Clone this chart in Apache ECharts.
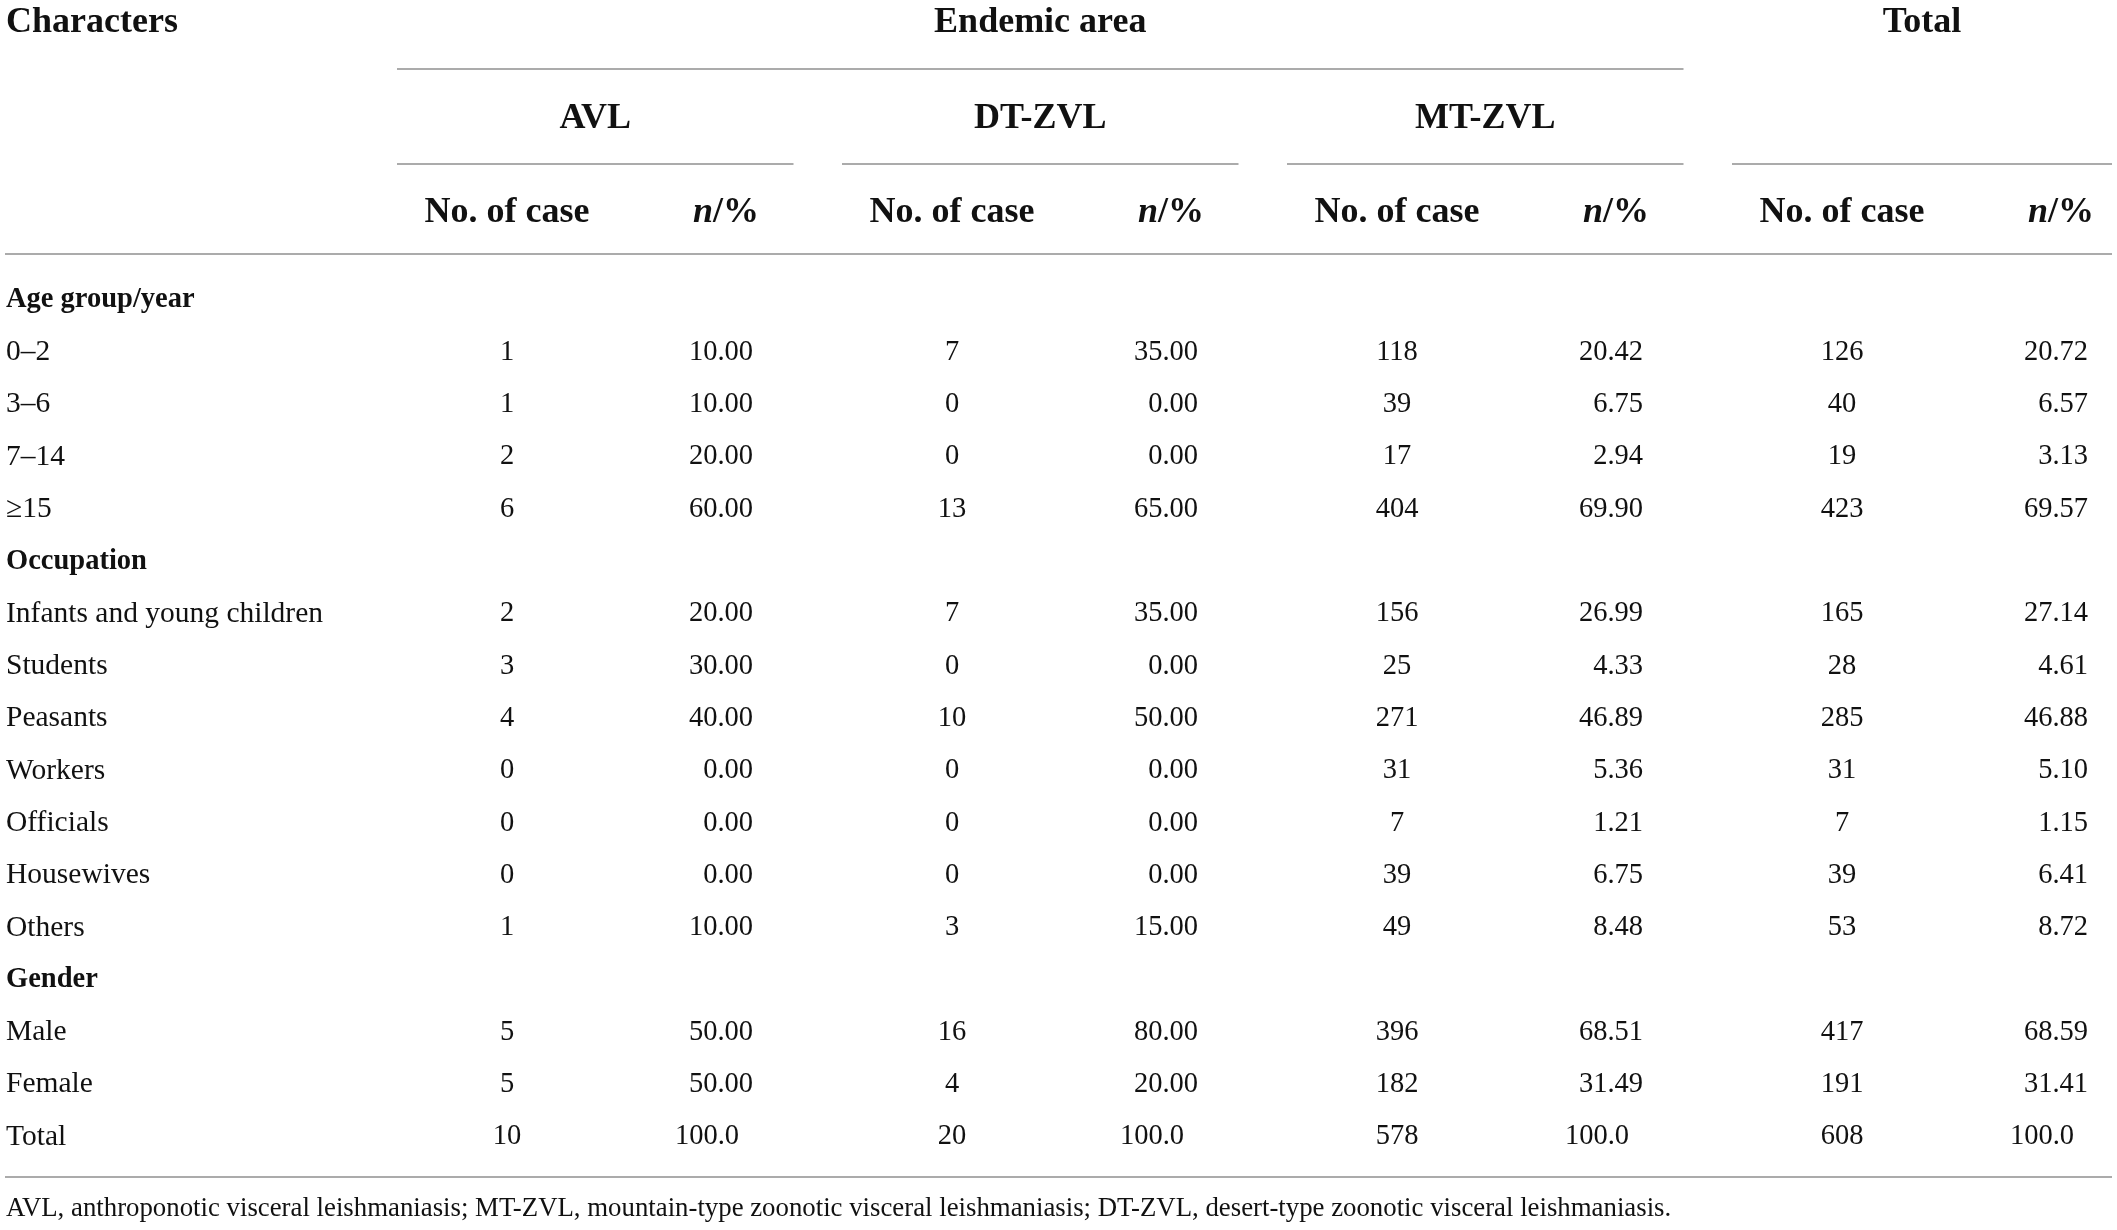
<!DOCTYPE html>
<html>
<head>
<meta charset="utf-8">
<script src="https://cdn.jsdelivr.net/npm/echarts@6/dist/echarts.min.js"></script>
<style>
  html,body{margin:0;padding:0;background:#fff;}
  #table1{width:2117px;height:1230px;}
</style>
</head>
<body>
<div id="table1"></div>
<script>
// rows of the table, group headings are bold and carry no values
var rows = ['Age group/year','0–2','3–6','7–14','≥15','Occupation','Infants and young children','Students',
  'Peasants','Workers','Officials','Housewives','Others','Gender','Male','Female','Total'];
var groupRows = ['Age group/year','Occupation','Gender'];
var columns = ['avlCase','avlPct','dtCase','dtPct','mtCase','mtPct','totalCase','totalPct'];
var areas = ['AVL','DT-ZVL','MT-ZVL','Total'];

var avlCases   = [null,1,1,2,6,null,2,3,4,0,0,0,1,null,5,5,10];
var avlPct     = [null,10,10,20,60,null,20,30,40,0,0,0,10,null,50,50,100];
var dtCases    = [null,7,0,0,13,null,7,0,10,0,0,0,3,null,16,4,20];
var dtPct      = [null,35,0,0,65,null,35,0,50,0,0,0,15,null,80,20,100];
var mtCases    = [null,118,39,17,404,null,156,25,271,31,7,39,49,null,396,182,578];
var mtPct      = [null,20.42,6.75,2.94,69.90,null,26.99,4.33,46.89,5.36,1.21,6.75,8.48,null,68.51,31.49,100];
var totalCases = [null,126,40,19,423,null,165,28,285,31,7,39,53,null,417,191,608];
var totalPct   = [null,20.72,6.57,3.13,69.57,null,27.14,4.61,46.88,5.10,1.15,6.41,8.72,null,68.59,31.41,100];

var footnote = 'AVL, anthroponotic visceral leishmaniasis; MT-ZVL, mountain-type zoonotic visceral leishmaniasis; DT-ZVL, desert-type zoonotic visceral leishmaniasis.';

var FONT = "'Liberation Serif','DejaVu Serif',serif";
var INK = '#111';
var RULE = '#ababab';

function fmtPct(v){
    return v === 100 ? '100.0' : v.toFixed(2);
}

function cellSeries(colIdx, values, isPct){
    var data = [];
    values.forEach(function(v, r){
        if (v === null) return;
        data.push({
            value:[colIdx, r, v],
            // decimal alignment: one-decimal values end one digit earlier
            label:{offset:[isPct ? (v === 100 ? 9.5 : 23.5) : 0, 0]}
        });
    });
    return {
        type:'scatter',
        symbolSize:1,
        itemStyle:{color:'rgba(0,0,0,0)'},
        silent:true,
        data:data,
        label:{
            show:true,
            position:'inside',
            align:isPct ? 'right' : 'center',
            verticalAlign:'middle',
            fontFamily:FONT,
            fontSize:28.5,
            color:INK,
            opacity:1,
            textBorderWidth:0,
            formatter:function(p){ return isPct ? fmtPct(p.value[2]) : String(p.value[2]); }
        },
        emphasis:{disabled:true}
    };
}

var myChart = echarts.init(document.getElementById('table1'));
var option = {
    animation:false,
    backgroundColor:'#fff',
    grid:{left:507, right:52.5, top:300, bottom:93},
    xAxis:{
        type:'category',
        boundaryGap:false,
        data:columns,
        axisLine:{show:false}, axisTick:{show:false}, axisLabel:{show:false}, splitLine:{show:false}
    },
    yAxis:{
        type:'category',
        inverse:true,
        boundaryGap:false,
        data:rows,
        axisLine:{show:false}, axisTick:{show:false}, splitLine:{show:false},
        axisLabel:{
            align:'left',
            margin:501,
            formatter:function(v){
                return groupRows.indexOf(v) >= 0 ? '{b|' + v + '}' : '{r|' + v + '}';
            },
            rich:{
                b:{fontFamily:FONT, fontSize:28.5, fontWeight:'bold', color:INK},
                r:{fontFamily:FONT, fontSize:29.5, color:INK}
            }
        }
    },
    series:[
        cellSeries(0, avlCases, false),
        cellSeries(1, avlPct, true),
        cellSeries(2, dtCases, false),
        cellSeries(3, dtPct, true),
        cellSeries(4, mtCases, false),
        cellSeries(5, mtPct, true),
        cellSeries(6, totalCases, false),
        cellSeries(7, totalPct, true)
    ]
};
myChart.setOption(option);

// header block and rules, placed from the column positions of the x axis
var colX = columns.map(function(c){ return myChart.convertToPixel({xAxisIndex:0}, c); });
var headBold = {fontFamily:FONT, fontSize:36, fontWeight:'bold', fill:INK, verticalAlign:'middle'};
var graphics = [];
function txt(x, y, text, align, style){
    graphics.push({type:'text', x:x, y:y, silent:true,
        style:Object.assign({}, style, {text:text, align:align})});
}
function rule(x1, x2, y){
    graphics.push({type:'line', silent:true, shape:{x1:x1, y1:y, x2:x2, y2:y},
        style:{stroke:RULE, lineWidth:2}});
}
var tableLeft = 5, tableRight = 2112;
txt(tableLeft + 1, 23, 'Characters', 'left', headBold);
var areaSpans = areas.map(function(a, i){
    var l = colX[2*i] - 110;
    var r = Math.min(colX[2*i+1] + 64, tableRight);
    return [l, r];
});
txt((areaSpans[0][0] + areaSpans[2][1]) / 2, 23, 'Endemic area', 'center', headBold);
txt((areaSpans[3][0] + areaSpans[3][1]) / 2, 23, 'Total', 'center', headBold);
rule(areaSpans[0][0], areaSpans[2][1], 69);
areas.forEach(function(a, i){
    if (i < 3) txt((areaSpans[i][0] + areaSpans[i][1]) / 2, 119, a, 'center', headBold);
    rule(areaSpans[i][0], areaSpans[i][1], 164);
    txt(colX[2*i], 213, 'No. of case', 'center', headBold);
    graphics.push({type:'text', x:colX[2*i+1] + 29.5, y:213, silent:true,
        style:{text:'{i|n}/%', align:'right', verticalAlign:'middle', fontFamily:FONT, fontSize:36,
            fontWeight:'bold', fill:INK,
            rich:{i:{fontFamily:FONT, fontSize:36, fontWeight:'bold', fontStyle:'italic', fill:INK}}}});
});
rule(tableLeft, tableRight, 254);
rule(tableLeft, tableRight, 1177);
txt(tableLeft + 1, 1209, footnote, 'left', {fontFamily:FONT, fontSize:26.8, fill:INK, verticalAlign:'middle'});

myChart.setOption({graphic:graphics});
</script>
</body>
</html>
